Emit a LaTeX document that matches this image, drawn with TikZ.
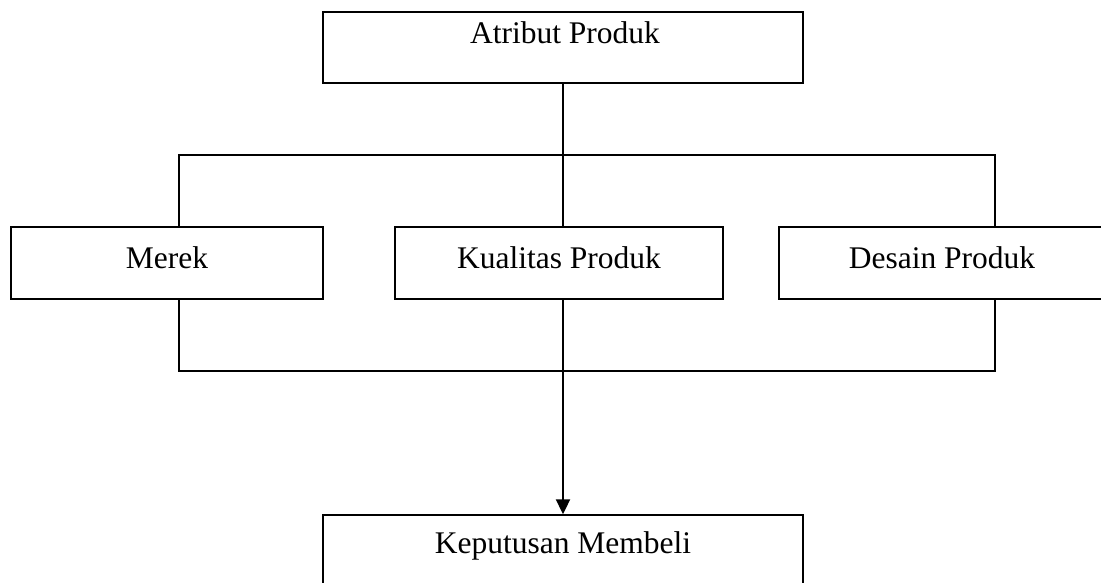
\documentclass[tikz,border=0pt]{standalone}
\usepackage{fontspec}
\setmainfont{Liberation Serif}
\usetikzlibrary{arrows.meta}
\begin{document}
\begin{tikzpicture}[x=1pt,y=-1pt,
  box/.style={draw=black, line width=1.5pt, rectangle, inner sep=0pt},
  lbl/.style={anchor=base, inner sep=0pt, font=\fontsize{31.5}{36}\selectfont},
  conn/.style={draw=black, line width=1.5pt},
  arr/.style={draw=black, line width=2.3pt, -{Triangle[length=15pt,width=14pt]}}]
\useasboundingbox (0,0) rectangle (1101,582);
\clip (0,0) rectangle (1101,582);
% boxes
\node[box, minimum width=480pt, minimum height=71pt] (atr) at (563,47.5) {};
\node[lbl] (tatr) at (565,43) {Atribut Produk};
\node[box, minimum width=312pt, minimum height=72pt] (mer) at (167,263) {};
\node[lbl] (tmer) at (167,268) {Merek};
\node[box, minimum width=328pt, minimum height=72pt] (kua) at (559,263) {};
\node[lbl] (tkua) at (559,268) {Kualitas Produk};
\node[box, minimum width=326pt, minimum height=72pt] (des) at (942,263) {};
\node[lbl] (tdes) at (942,268) {Desain Produk};
\node[box, minimum width=480pt, minimum height=90pt] (kep) at (563,560) {};
\node[lbl] (tkep) at (563,553) {Keputusan Membeli};
% junction coordinates
\coordinate (tl) at (179,155);
\coordinate (tr) at (995,155);
\coordinate (bl) at (179,371);
\coordinate (br) at (995,371);
% connectors
\draw[conn] (atr.south -| 563,0) -- (kua.north -| 563,0);
\draw[conn] (mer.north -| tl) -- (tl) -- (tr) -- (des.north -| tr);
\draw[conn] (mer.south -| bl) -- (bl) -- (br) -- (des.south -| br);
\draw[arr] (kua.south -| 563,0) -- (kep.north -| 563,0);
\end{tikzpicture}
\end{document}
